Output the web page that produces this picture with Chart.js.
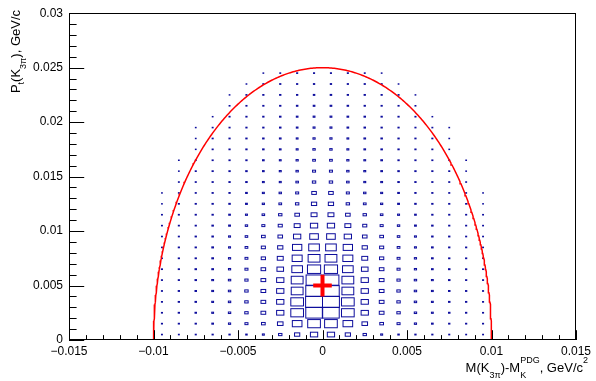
<!DOCTYPE html>
<html><head><meta charset="utf-8">
<script src="https://cdn.jsdelivr.net/npm/chart.js@4/dist/chart.umd.min.js"></script>
<style>html,body{margin:0;padding:0;background:#fff;}#wrap{width:596px;height:381px;}</style>
</head><body><div id="wrap"><canvas id="c" width="596" height="381"></canvas></div>
<script>
// ---- data ----
const xBinCenters = [-0.0095,-0.0085,-0.0075,-0.0065,-0.0055,-0.0045,-0.0035,-0.0025,-0.0015,-0.0005,
                     0.0005,0.0015,0.0025,0.0035,0.0045,0.0055,0.0065,0.0075,0.0085,0.0095];
const yBinCenters = [0.0005,0.0015,0.0025,0.0035,0.0045,0.0055,0.0065,0.0075,0.0085,0.0095,
                     0.0105,0.0115,0.0125,0.0135,0.0145,0.0155,0.0165,0.0175,0.0185,0.0195,
                     0.0205,0.0215,0.0225,0.0235,0.0245];
const binWidthX = 0.001;
const binWidthY = 0.001;
// bin contents, one row per y bin (bottom to top), columns follow xBinCenters
const binContent = [
  [3,3,4,5,6,8,14,40,96,185,185,96,40,14,8,6,5,4,3,3],
  [4,5,6,10,17,32,48,109,325,563,563,325,109,48,32,17,10,6,5,4],
  [4,6,8,12,20,40,78,185,563,960,960,563,185,78,40,20,12,8,6,4],
  [4,6,8,12,20,40,78,185,563,1000,1000,563,185,78,40,20,12,8,6,4],
  [4,6,8,12,20,40,78,185,490,960,960,490,185,78,40,20,12,8,6,4],
  [4,5,8,12,20,36,78,185,490,884,884,490,185,78,36,20,12,8,5,4],
  [4,5,8,10,17,32,73,152,397,608,608,397,152,73,32,17,10,8,5,4],
  [3,5,6,10,17,29,63,123,348,490,490,348,123,63,29,17,10,6,5,3],
  [3,5,6,10,14,26,58,96,303,397,397,303,96,58,26,14,10,6,5,3],
  [3,4,6,8,14,23,48,73,185,260,260,185,73,48,23,14,8,6,4,3],
  [3,4,5,8,12,20,32,58,123,185,185,123,58,32,20,12,8,5,4,3],
  [3,4,5,6,10,14,23,40,73,123,123,73,40,23,14,10,6,5,4,3],
  [2,4,5,6,8,12,17,26,40,96,96,40,26,17,12,8,6,5,4,2],
  [2,3,4,5,6,10,14,20,32,73,73,32,20,14,10,6,5,4,3,2],
  [0,3,4,5,6,8,12,14,23,40,40,23,14,12,8,6,5,4,3,0],
  [0,2,4,5,6,8,10,14,20,32,32,20,14,10,8,6,5,4,2,0],
  [0,2,3,4,5,6,10,12,17,26,26,17,12,10,6,5,4,3,2,0],
  [0,0,2,4,5,6,8,10,14,20,20,14,10,8,6,5,4,2,0,0],
  [0,0,2,4,5,6,8,10,12,17,17,12,10,8,6,5,4,2,0,0],
  [0,0,2,3,4,5,6,8,10,14,14,10,8,6,5,4,3,2,0,0],
  [0,0,0,2,4,5,6,8,10,12,12,10,8,6,5,4,2,0,0,0],
  [0,0,0,0,3,4,5,6,8,10,10,8,6,5,4,3,0,0,0,0],
  [0,0,0,0,2,4,5,6,6,8,8,6,6,5,4,2,0,0,0,0],
  [0,0,0,0,0,2,4,5,5,6,6,5,5,4,2,0,0,0,0,0],
  [0,0,0,0,0,0,2,3,4,4,4,4,3,2,0,0,0,0,0,0]
];
const xTicks = [-0.015,-0.01,-0.005,0,0.005,0.01,0.015];
const yTicks = [0,0.005,0.01,0.015,0.02,0.025,0.03];
const xMinorStep = 0.001;
const yMinorStep = 0.001;
// selection ellipse (centre, semi-axes) and fitted point with errors
const ellipseCenter = [0, 0];
const ellipseSemiAxes = [0.01, 0.025];
const crossPoint = [0, 0.005];
const crossErrors = [0.00055, 0.001];

// ---- derived datasets ----
const ellipsePts = [];
for (let k = 0; k <= 360; k++) {
  const t = Math.PI * k / 360;
  ellipsePts.push({x: ellipseCenter[0] + ellipseSemiAxes[0]*Math.cos(t), y: ellipseCenter[1] + ellipseSemiAxes[1]*Math.sin(t)});
}
const crossH = [{x: crossPoint[0]-crossErrors[0], y: crossPoint[1]}, {x: crossPoint[0]+crossErrors[0], y: crossPoint[1]}];
const crossV = [{x: crossPoint[0], y: crossPoint[1]-crossErrors[1]}, {x: crossPoint[0], y: crossPoint[1]+crossErrors[1]}];
const maxContent = Math.max(...binContent.flat());

const FONT = '"Liberation Sans", Arial, Helvetica, sans-serif';
function fmt(v) {
  const r = Math.round(v * 100000) / 100000;
  return (r === 0 ? '0' : String(r)).replace('-', '\u2212');
}

const boxPlugin = {
  id: 'boxes',
  beforeDatasetsDraw(chart) {
    const {ctx, scales: {x, y}, chartArea} = chart;
    ctx.save();
    ctx.beginPath();
    ctx.rect(chartArea.left, chartArea.top, chartArea.right - chartArea.left, chartArea.bottom - chartArea.top);
    ctx.clip();
    ctx.strokeStyle = '#0c0c9c';
    ctx.lineWidth = 1;
    for (let j = 0; j < yBinCenters.length; j++) {
      for (let i = 0; i < xBinCenters.length; i++) {
        const c = binContent[j][i];
        if (!c) continue;
        const f = Math.sqrt(c / maxContent);
        const hx = binWidthX / 2 * f, hy = binWidthY / 2 * f;
        const x1 = x.getPixelForValue(xBinCenters[i] - hx), x2 = x.getPixelForValue(xBinCenters[i] + hx);
        const y1 = y.getPixelForValue(yBinCenters[j] + hy), y2 = y.getPixelForValue(yBinCenters[j] - hy);
        ctx.strokeRect(x1, y1, x2 - x1, y2 - y1);
      }
    }
    ctx.restore();
  },
  afterDraw(chart) {
    const {ctx, scales: {x, y}, chartArea: a} = chart;
    ctx.save();
    ctx.strokeStyle = '#000';
    ctx.lineWidth = 1;
    // frame
    ctx.strokeRect(Math.round(a.left) + 0.5, Math.round(a.top) + 0.5, Math.round(a.right - a.left) - 1, Math.round(a.bottom - a.top) - 1);
    ctx.beginPath();
    const H = a.bottom - a.top, W = a.right - a.left;
    const xMaj = 0.03 * H, yMaj = 0.03 * W;
    // x ticks
    for (let v = x.min; v <= x.max + 1e-9; v += xMinorStep) {
      const vv = Math.round(v / xMinorStep) * xMinorStep;
      const isMaj = xTicks.some(t => Math.abs(t - vv) < 1e-9);
      const px = Math.round(x.getPixelForValue(vv)) + 0.5;
      const len = isMaj ? xMaj : xMaj / 2;
      ctx.moveTo(px, a.bottom); ctx.lineTo(px, a.bottom - len);
    }
    for (let v = y.min; v <= y.max + 1e-9; v += yMinorStep) {
      const vv = Math.round(v / yMinorStep) * yMinorStep;
      const isMaj = yTicks.some(t => Math.abs(t - vv) < 1e-9);
      const py = Math.round(y.getPixelForValue(vv)) + 0.5;
      const len = isMaj ? yMaj : yMaj / 2;
      ctx.moveTo(a.left, py); ctx.lineTo(a.left + len, py);
    }
    ctx.stroke();
    // axis lines slightly heavier
    ctx.beginPath();
    ctx.moveTo(a.left + 0.5, a.top); ctx.lineTo(a.left + 0.5, a.bottom);
    ctx.moveTo(a.left, a.bottom - 0.5); ctx.lineTo(a.right, a.bottom - 0.5);
    ctx.stroke();

    // x title: M(K_{3pi})-M_{K}^{PDG}, GeV/c^{2}
    ctx.fillStyle = '#000';
    ctx.textBaseline = 'alphabetic';
    const big = '13px ' + FONT, small = '9px ' + FONT;
    const xParts = [
      {t: 'M(K', f: big, dy: 0},
      {t: '3\u03c0', f: small, dy: 6},
      {t: ')-M', f: big, dy: 0},
      {t: 'PDG', f: small, dy: -9, stackSub: 'K'},
      {t: ', GeV/c', f: big, dy: 0},
      {t: '2', f: small, dy: -9}
    ];
    let total = 0;
    for (const p of xParts) { ctx.font = p.f; p.w = ctx.measureText(p.t).width; if (p.stackSub) { ctx.font = small; p.w = Math.max(p.w, ctx.measureText(p.stackSub).width); } total += p.w; }
    let cx = 588 - total, base = 372;
    for (const p of xParts) {
      ctx.font = p.f; ctx.fillText(p.t, cx, base + p.dy);
      if (p.stackSub) { ctx.font = small; ctx.fillText(p.stackSub, cx, base + 6); }
      cx += p.w;
    }
    // y title: P_{t}(K_{3pi}), GeV/c (rotated)
    const yParts = [
      {t: 'P', f: big, dy: 0},
      {t: 't', f: small, dy: 4},
      {t: '(K', f: big, dy: 0},
      {t: '3\u03c0', f: small, dy: 6},
      {t: '), GeV/c', f: big, dy: 0}
    ];
    total = 0;
    for (const p of yParts) { ctx.font = p.f; p.w = ctx.measureText(p.t).width; total += p.w; }
    ctx.translate(20, 10 + total);
    ctx.rotate(-Math.PI / 2);
    cx = 0;
    for (const p of yParts) { ctx.font = p.f; ctx.fillText(p.t, cx, p.dy); cx += p.w; }
    ctx.restore();
  }
};

new Chart(document.getElementById('c'), {
  type: 'scatter',
  data: {
    datasets: [
      {type: 'line', data: ellipsePts, borderColor: '#ff0000', borderWidth: 1.5, pointRadius: 0, fill: false, tension: 0},
      {type: 'line', data: crossH, borderColor: '#ff0000', borderWidth: 4, pointRadius: 0, fill: false},
      {type: 'line', data: crossV, borderColor: '#ff0000', borderWidth: 4, pointRadius: 0, fill: false}
    ]
  },
  options: {
    responsive: false,
    animation: false,
    devicePixelRatio: 1,
    layout: {padding: {left: 0, top: 12, right: 20, bottom: 0}},
    plugins: {legend: {display: false}, tooltip: {enabled: false}},
    events: [],
    scales: {
      x: {
        type: 'linear', min: -0.015, max: 0.015,
        afterBuildTicks: s => { s.ticks = xTicks.map(v => ({value: v})); },
        afterFit: s => { s.height = 41; },
        grid: {display: false, drawTicks: false},
        border: {display: false},
        ticks: {color: '#000', font: {family: FONT, size: 12}, padding: 4, maxRotation: 0, autoSkip: false, callback: v => fmt(v)}
      },
      y: {
        type: 'linear', min: 0, max: 0.03,
        afterBuildTicks: s => { s.ticks = yTicks.map(v => ({value: v})); },
        afterFit: s => { s.width = 69; },
        grid: {display: false, drawTicks: false},
        border: {display: false},
        ticks: {color: '#000', font: {family: FONT, size: 12}, padding: 6, autoSkip: false, callback: v => fmt(v)}
      }
    }
  },
  plugins: [boxPlugin]
});
</script></body></html>
